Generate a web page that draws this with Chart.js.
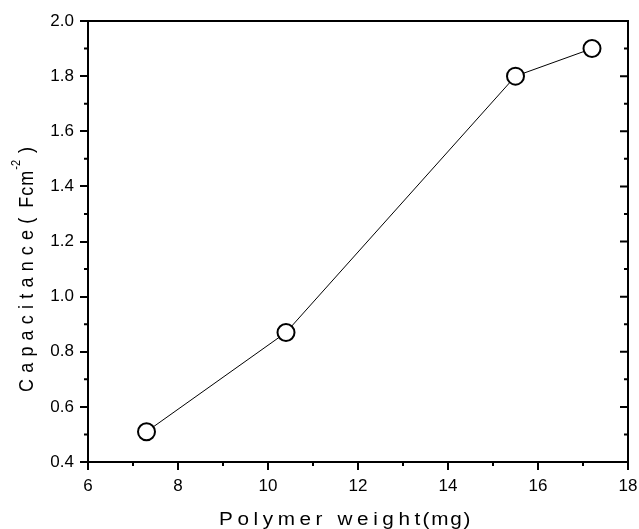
<!DOCTYPE html>
<html>
<head>
<meta charset="utf-8">
<script src="https://cdn.jsdelivr.net/npm/chart.js@4.4.1/dist/chart.umd.min.js"></script>
<style>
  html, body { margin: 0; padding: 0; background: #fff; }
  #wrap { width: 639px; height: 529px; }
</style>
</head>
<body>
<div id="wrap"><canvas id="cap" width="639" height="529"></canvas></div>
<script>
  // polymer loading vs capacitance
  const weights = [7.3, 10.4, 15.5, 17.2];
  const capacitance = [0.51, 0.87, 1.8, 1.9];

  const xRange = [6, 18];
  const yRange = [0.4, 2.0];

  const FONT = "'Liberation Sans', Arial, sans-serif";
  const STRETCH = 1.15; // the lettering is a bit wide

  // frame, minor ticks, inner ticks on the right side, axis titles
  const framePlugin = {
    id: "frame",
    afterDraw(chart) {
      const ctx = chart.ctx;
      const xs = chart.scales.x;
      const ys = chart.scales.y;
      const a = chart.chartArea;
      ctx.save();
      ctx.strokeStyle = "#000";
      ctx.lineWidth = 2;
      ctx.beginPath();
      ctx.moveTo(a.left - 1, a.top);
      ctx.lineTo(a.right, a.top);
      ctx.lineTo(a.right, a.bottom + 1);
      ctx.stroke();

      ctx.beginPath();
      // minor ticks on x
      const xt = xs.ticks.map((t) => t.value);
      for (let i = 0; i < xt.length - 1; i++) {
        const px = xs.getPixelForValue((xt[i] + xt[i + 1]) / 2);
        ctx.moveTo(px, a.bottom);
        ctx.lineTo(px, a.bottom + 4);
      }
      // y: minor outward on the left, major and minor inward on the right
      const yt = ys.ticks.map((t) => t.value);
      for (let i = 0; i < yt.length; i++) {
        const py = ys.getPixelForValue(yt[i]);
        ctx.moveTo(a.right, py);
        ctx.lineTo(a.right - 8, py);
        if (i < yt.length - 1) {
          const pm = ys.getPixelForValue((yt[i] + yt[i + 1]) / 2);
          ctx.moveTo(a.left, pm);
          ctx.lineTo(a.left - 4, pm);
          ctx.moveTo(a.right, pm);
          ctx.lineTo(a.right - 4, pm);
        }
      }
      ctx.stroke();
      ctx.restore();

      ctx.fillStyle = "#000";
      ctx.textBaseline = "alphabetic";
      ctx.textAlign = "left";

      // x title
      ctx.save();
      ctx.translate(219, 525);
      ctx.scale(STRETCH, 1);
      ctx.font = "18px " + FONT;
      ctx.letterSpacing = "4px";
      const part1 = "Polymer weight";
      ctx.fillText(part1, 0, 0);
      const w1 = ctx.measureText(part1).width;
      ctx.letterSpacing = "1.5px";
      ctx.fillText("(mg)", w1 - 2, 0);
      ctx.restore();

      // y title, rotated
      ctx.save();
      ctx.translate(33, 392);
      ctx.rotate(-Math.PI / 2);
      ctx.scale(1, STRETCH);
      ctx.font = "18px " + FONT;
      ctx.letterSpacing = "6.2px";
      ctx.fillText("Capacitance", 0, 0);
      let off = ctx.measureText("Capacitance").width;
      ctx.letterSpacing = "0px";
      ctx.fillText("(", off, 0);
      off += ctx.measureText("(").width + 10;
      ctx.letterSpacing = "1px";
      ctx.fillText("Fcm", off, 0);
      off += ctx.measureText("Fcm").width;
      ctx.font = "11px " + FONT;
      ctx.letterSpacing = "0px";
      ctx.fillText("-2", off, -11);
      off += ctx.measureText("-2").width + 7;
      ctx.font = "18px " + FONT;
      ctx.fillText(")", off, 0);
      ctx.restore();
    },
  };

  new Chart(document.getElementById("cap"), {
    type: "scatter",
    data: {
      datasets: [
        {
          data: weights.map((w, i) => ({ x: w, y: capacitance[i] })),
          showLine: true,
          borderColor: "#000",
          borderWidth: 1,
          pointRadius: 8.5,
          pointBorderWidth: 2,
          pointBackgroundColor: "#fff",
          pointBorderColor: "#000",
          clip: false,
        },
      ],
    },
    options: {
      responsive: false,
      animation: false,
      layout: { padding: { top: 21, right: 11, left: 0, bottom: 0 } },
      plugins: { legend: { display: false }, tooltip: { enabled: false } },
      scales: {
        x: {
          type: "linear",
          min: xRange[0],
          max: xRange[1],
          afterFit: (s) => {
            s.height = 67;
            s.paddingLeft = 0;
            s.paddingRight = 0;
          },
          ticks: {
            stepSize: 2,
            color: "#000",
            padding: 6,
            font: { family: FONT, size: 17 },
          },
          grid: {
            drawOnChartArea: false,
            tickLength: 8,
            color: "#000",
            lineWidth: 2,
          },
          border: { display: true, color: "#000", width: 2 },
        },
        y: {
          min: yRange[0],
          max: yRange[1],
          afterFit: (s) => {
            s.width = 88;
            s.paddingTop = 0;
            s.paddingBottom = 0;
          },
          ticks: {
            stepSize: 0.2,
            color: "#000",
            padding: 6,
            font: { family: FONT, size: 17 },
            callback: (v) => v.toFixed(1),
          },
          grid: {
            drawOnChartArea: false,
            tickLength: 8,
            color: "#000",
            lineWidth: 2,
          },
          border: { display: true, color: "#000", width: 2 },
        },
      },
    },
    plugins: [framePlugin],
  });
</script>
</body>
</html>
